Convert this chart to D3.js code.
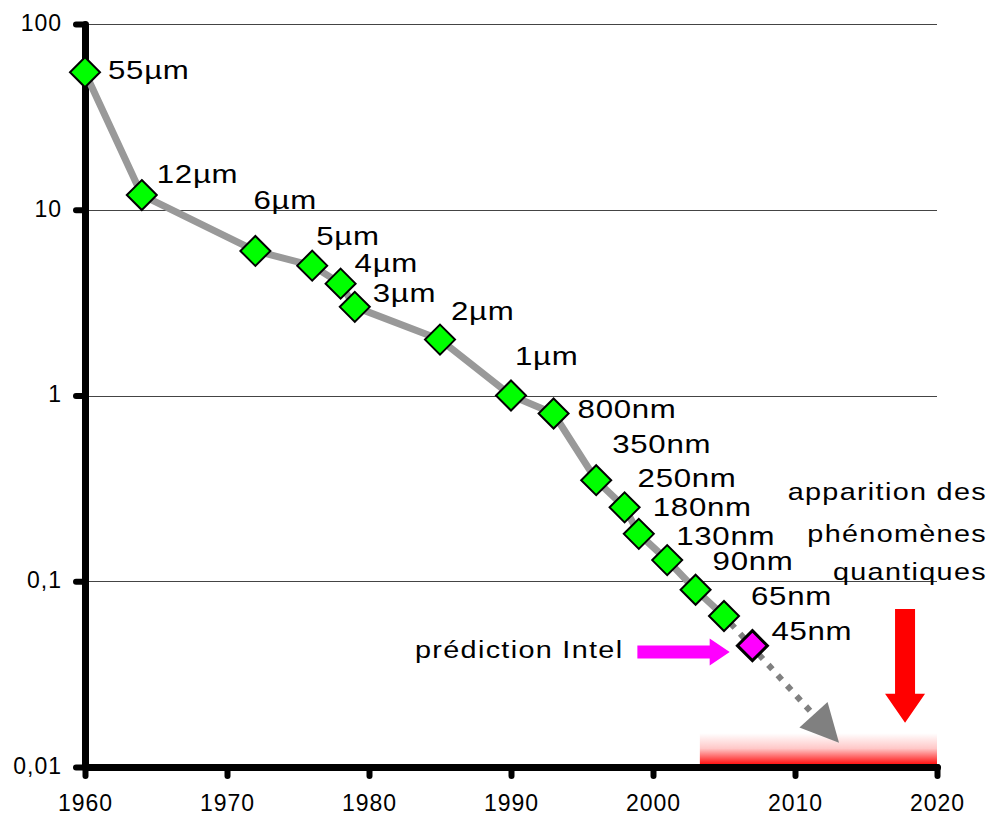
<!DOCTYPE html>
<html>
<head>
<meta charset="utf-8">
<script src="https://cdn.jsdelivr.net/npm/d3@7"></script>
<style>
  body { margin: 0; background: #fff; }
  svg { display: block; font-family: "Liberation Sans", Arial, sans-serif; }
</style>
</head>
<body>
<div id="chart"></div>
<script>
// engraving size per year (micrometres)
var years = [1960, 1964, 1972, 1976, 1978, 1979, 1985, 1990, 1993, 1996, 1998, 1999, 2001, 2003, 2005, 2007];
var sizes = [55, 12, 6, 5, 4, 3, 2, 1, 0.8, 0.35, 0.25, 0.18, 0.13, 0.09, 0.065, 0.045];
var sizeLabels = ['55µm', '12µm', '6µm', '5µm', '4µm', '3µm', '2µm', '1µm', '800nm',
  '350nm', '250nm', '180nm', '130nm', '90nm', '65nm', '45nm'];

// extrapolated trend (dotted arrow)
var trendYears = [2005, 2013.1];
var trendSizes = [0.065, 0.0135];

// quantum effects zone + arrow
var quantumYears = [2003.3, 2020];
var quantumSizes = [0.01, 0.0152];
var quantumArrowYear = 2017.75;
var quantumArrowSizes = [0.071, 0.0173];
var quantumText = ['apparition des', 'phénomènes', 'quantiques'];

// Intel prediction arrow
var intelArrowYears = [1998.9, 2005.4];
var intelArrowSize = 0.0416;
var intelText = 'prédiction Intel';

var xTicks = [1960, 1970, 1980, 1990, 2000, 2010, 2020];
var yTicks = [0.01, 0.1, 1, 10, 100];
var yTickLabels = ['0,01', '0,1', '1', '10', '100'];

// label nudges in px from each point
var labelNudge = [[23, 7], [15, -12], [-2, -42], [4, -21], [14, -12], [18, -5], [11, -20], [4, -31],
  [24, 4], [16, -27], [13, -20], [14, -18], [9, -15], [17, -20], [27, -11], [19, -6]];

var width = 991, height = 815;
var stretch = 1.2; // text in the original is drawn wide

var x = d3.scaleLinear().domain([1960, 2020]).range([85, 937]);
var y = d3.scaleLog().domain([0.01, 100]).range([767, 24]);

var svg = d3.select('#chart').append('svg')
  .attr('width', width)
  .attr('height', height)
  .style('background', '#fff');

var defs = svg.append('defs');
var grad = defs.append('linearGradient')
  .attr('id', 'redfade')
  .attr('x1', 0).attr('y1', 0).attr('x2', 0).attr('y2', 1);
grad.append('stop').attr('offset', '0%').attr('stop-color', '#fff');
grad.append('stop').attr('offset', '45%').attr('stop-color', '#ffc8c8');
grad.append('stop').attr('offset', '88%').attr('stop-color', '#ff2020');
grad.append('stop').attr('offset', '100%').attr('stop-color', '#f00');

// gridlines
svg.append('g').selectAll('line')
  .data(yTicks.slice(1))
  .enter().append('line')
    .attr('x1', x(1960))
    .attr('x2', x(2020))
    .attr('y1', function(d) { return Math.round(y(d)) + 0.5; })
    .attr('y2', function(d) { return Math.round(y(d)) + 0.5; })
    .style('stroke', '#444')
    .style('stroke-width', 1);

// red zone
svg.append('rect')
  .attr('x', x(quantumYears[0]))
  .attr('width', x(quantumYears[1]) - x(quantumYears[0]))
  .attr('y', y(quantumSizes[1]))
  .attr('height', y(quantumSizes[0]) - y(quantumSizes[1]))
  .style('fill', 'url(#redfade)');

// axes
var yAxis = d3.axisLeft(y)
  .tickValues(yTicks)
  .tickFormat(function(d, i) { return yTickLabels[i]; })
  .tickSize(9)
  .tickSizeOuter(0)
  .tickPadding(14);

var xAxis = d3.axisBottom(x)
  .tickValues(xTicks)
  .tickFormat(d3.format('d'))
  .tickSize(9)
  .tickSizeOuter(0)
  .tickPadding(19);

var yG = svg.append('g')
  .attr('transform', 'translate(' + x(1960) + ',0)')
  .call(yAxis);
var xG = svg.append('g')
  .attr('transform', 'translate(0,' + y(0.01) + ')')
  .call(xAxis);

[yG, xG].forEach(function(g) {
  g.select('.domain')
    .style('stroke', '#000')
    .style('stroke-width', 7)
    .style('stroke-linecap', 'round');
  g.selectAll('.tick line')
    .style('stroke', '#000')
    .style('stroke-width', 6)
    .style('stroke-linecap', 'round');
  g.selectAll('.tick text')
    .style('font-family', '"Liberation Sans", Arial, sans-serif')
    .style('font-size', '23px')
    .style('letter-spacing', '1px')
    .style('fill', '#000');
});
yG.selectAll('.tick text').attr('dy', '0.28em');
xG.selectAll('.tick text').attr('dy', '0.68em');

// solid measured line
var line = d3.line()
  .x(function(d) { return x(d[0]); })
  .y(function(d) { return y(d[1]); });

var pts = years.map(function(yr, i) { return [yr, sizes[i]]; });

svg.append('path')
  .datum(pts.slice(0, -1))
  .attr('d', line)
  .style('fill', 'none')
  .style('stroke', '#999')
  .style('stroke-width', 7)
  .style('stroke-linejoin', 'round');

// dotted trend + arrow head
var t0 = [x(trendYears[0]), y(trendSizes[0])];
var t1 = [x(trendYears[1]), y(trendSizes[1])];
var dx = t1[0] - t0[0], dy = t1[1] - t0[1];
var len = Math.sqrt(dx * dx + dy * dy);
var ux = dx / len, uy = dy / len;
var headLen = 38, headHalf = 19;
var base = [t1[0] - ux * headLen, t1[1] - uy * headLen];

svg.append('line')
  .attr('x1', t0[0] + ux * 10).attr('y1', t0[1] + uy * 10)
  .attr('x2', base[0]).attr('y2', base[1])
  .style('stroke', '#808080')
  .style('stroke-width', 6)
  .style('stroke-dasharray', '6,8');

svg.append('polygon')
  .attr('points', [
    t1,
    [base[0] - uy * headHalf, base[1] + ux * headHalf],
    [base[0] + uy * headHalf, base[1] - ux * headHalf]
  ].map(function(p) { return p.join(','); }).join(' '))
  .style('fill', '#808080');

// red arrow (quantum)
var qx = x(quantumArrowYear), qTop = y(quantumArrowSizes[0]), qTip = y(quantumArrowSizes[1]);
svg.append('polygon')
  .attr('points', [
    [qx - 10, qTop], [qx + 10, qTop], [qx + 10, qTip - 29], [qx + 20, qTip - 29],
    [qx, qTip], [qx - 20, qTip - 29], [qx - 10, qTip - 29]
  ].map(function(p) { return p.join(','); }).join(' '))
  .style('fill', '#f00');

// magenta arrow (Intel)
var ix0 = x(intelArrowYears[0]), ix1 = x(intelArrowYears[1]), iy = y(intelArrowSize);
svg.append('polygon')
  .attr('points', [
    [ix0, iy - 6.5], [ix1 - 20, iy - 6.5], [ix1 - 20, iy - 13.5], [ix1, iy],
    [ix1 - 20, iy + 13.5], [ix1 - 20, iy + 6.5], [ix0, iy + 6.5]
  ].map(function(p) { return p.join(','); }).join(' '))
  .style('fill', '#f0f');

// markers
var last = pts.length - 1;
svg.append('g').selectAll('path')
  .data(pts)
  .enter().append('path')
    .attr('transform', function(d) { return 'translate(' + x(d[0]) + ',' + y(d[1]) + ')'; })
    .attr('d', 'M0,-15L15,0L0,15L-15,0Z')
    .style('fill', function(d, i) { return i === last ? '#f0f' : '#00ff00'; })
    .style('stroke', '#000')
    .style('stroke-width', function(d, i) { return i === last ? 3 : 2; })
    .style('stroke-linejoin', 'miter');

// point labels
svg.append('g').selectAll('text')
  .data(pts)
  .enter().append('text')
    .attr('transform', function(d, i) {
      return 'translate(' + (x(d[0]) + labelNudge[i][0]) + ',' + (y(d[1]) + labelNudge[i][1]) + ') scale(' + stretch + ',1)';
    })
    .text(function(d, i) { return sizeLabels[i]; })
    .style('font-size', '26px')
    .style('letter-spacing', '0.6px')
    .style('fill', '#000');

// annotations
svg.append('text')
  .attr('transform', 'translate(' + (ix0 - 14) + ',' + (iy + 6) + ') scale(' + stretch + ',1)')
  .attr('text-anchor', 'end')
  .text(intelText)
  .style('font-size', '24px')
  .style('letter-spacing', '1.1px')
  .style('fill', '#000');

svg.append('g').selectAll('text')
  .data(quantumText)
  .enter().append('text')
    .attr('transform', function(d, i) {
      return 'translate(987,' + [500, 542, 580][i] + ') scale(' + stretch + ',1)';
    })
    .attr('text-anchor', 'end')
    .text(function(d) { return d; })
    .style('font-size', '24px')
    .style('letter-spacing', '1.1px')
    .style('fill', '#000');
</script>
</body>
</html>
